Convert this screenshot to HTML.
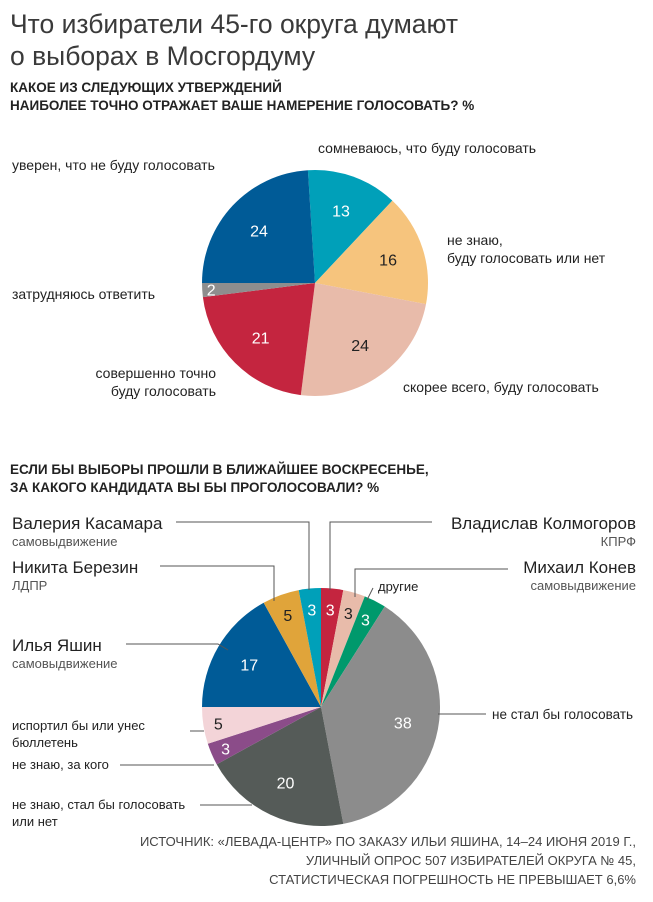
<!DOCTYPE html>
<html><head><meta charset="utf-8"><style>
body{margin:0;background:#fff;}
svg{display:block;font-family:"Liberation Sans","DejaVu Sans",sans-serif;}
</style></head><body>
<svg id="s" width="653" height="902" viewBox="0 0 653 902" xmlns="http://www.w3.org/2000/svg">
<g fill="#333">
<text x="10" y="33" font-size="26.5" fill="#3a3a3a">Что избиратели 45-го округа думают</text>
<text x="10" y="65" font-size="26.5" fill="#3a3a3a">о выборах в Мосгордуму</text>
<text x="10" y="92" font-size="13.5" font-weight="bold" fill="#222">КАКОЕ ИЗ СЛЕДУЮЩИХ УТВЕРЖДЕНИЙ</text>
<text x="10" y="110" font-size="13.5" font-weight="bold" fill="#222">НАИБОЛЕЕ ТОЧНО ОТРАЖАЕТ ВАШЕ НАМЕРЕНИЕ ГОЛОСОВАТЬ? %</text>
<text x="10" y="474" font-size="13.5" font-weight="bold" fill="#222">ЕСЛИ БЫ ВЫБОРЫ ПРОШЛИ В БЛИЖАЙШЕЕ ВОСКРЕСЕНЬЕ,</text>
<text x="10" y="492" font-size="13.5" font-weight="bold" fill="#222">ЗА КАКОГО КАНДИДАТА ВЫ БЫ ПРОГОЛОСОВАЛИ? %</text>
</g>
<g id="p1"></g><g id="p2"></g>
<g font-size="14" fill="#222">
<text x="318" y="153">сомневаюсь, что буду голосовать</text>
<text x="12" y="170">уверен, что не буду голосовать</text>
<text x="447" y="245">не знаю,</text>
<text x="447" y="263">буду голосовать или нет</text>
<text x="12" y="299">затрудняюсь ответить</text>
<text x="216" y="378" text-anchor="end">совершенно точно</text>
<text x="216" y="396" text-anchor="end">буду голосовать</text>
<text x="403" y="392">скорее всего, буду голосовать</text>
</g>
<g stroke="#555" stroke-width="1" fill="none">
<polyline points="176,522 309,522 309,590"/>
<polyline points="160,566 274,566 274,601"/>
<polyline points="126,644 218,644 228,650"/>
<polyline points="330,590 330,522 432,522"/>
<polyline points="355,597 355,569 508,569"/>
<polyline points="367,600 373,588"/>
<polyline points="438,714 486,714"/>
<polyline points="190,731 204,731"/>
<polyline points="120,765 214,765"/>
<polyline points="200,805 252,805"/>
</g>
<g fill="#222">
<text x="12" y="529" font-size="17">Валерия Касамара</text>
<text x="12" y="546" font-size="13" fill="#555">самовыдвижение</text>
<text x="12" y="573" font-size="17">Никита Березин</text>
<text x="12" y="590" font-size="13" fill="#555">ЛДПР</text>
<text x="12" y="651" font-size="17">Илья Яшин</text>
<text x="12" y="668" font-size="13" fill="#555">самовыдвижение</text>
<text x="636" y="529" font-size="17" text-anchor="end">Владислав Колмогоров</text>
<text x="636" y="546" font-size="13" fill="#555" text-anchor="end">КПРФ</text>
<text x="636" y="573" font-size="17" text-anchor="end">Михаил Конев</text>
<text x="636" y="590" font-size="13" fill="#555" text-anchor="end">самовыдвижение</text>
<text x="378" y="591" font-size="13">другие</text>
<text x="492" y="719" font-size="13.5">не стал бы голосовать</text>
<text x="12" y="730" font-size="13">испортил бы или унес</text>
<text x="12" y="747" font-size="13">бюллетень</text>
<text x="12" y="769" font-size="13">не знаю, за кого</text>
<text x="12" y="809" font-size="13">не знаю, стал бы голосовать</text>
<text x="12" y="826" font-size="13">или нет</text>
<g font-size="13" fill="#444" text-anchor="end">
<text x="636" y="846">ИСТОЧНИК: «ЛЕВАДА-ЦЕНТР» ПО ЗАКАЗУ ИЛЬИ ЯШИНА, 14–24 ИЮНЯ 2019 Г.,</text>
<text x="636" y="865">УЛИЧНЫЙ ОПРОС 507 ИЗБИРАТЕЛЕЙ ОКРУГА № 45,</text>
<text x="636" y="884">СТАТИСТИЧЕСКАЯ ПОГРЕШНОСТЬ НЕ ПРЕВЫШАЕТ 6,6%</text>
</g>
</g>
</svg>
<script>
function pie(id,cx,cy,r,start,data,lr){
 var g=document.getElementById(id),a=start,h='';
 data.forEach(function(d){
  var s=a*Math.PI/180,e=(a+d[0]*3.6)*Math.PI/180;
  var x1=cx+r*Math.sin(s),y1=cy-r*Math.cos(s),x2=cx+r*Math.sin(e),y2=cy-r*Math.cos(e);
  var lg=d[0]>50?1:0;
  h+='<path d="M'+cx+','+cy+' L'+x1+','+y1+' A'+r+','+r+' 0 '+lg+' 1 '+x2+','+y2+' Z" fill="'+d[1]+'"/>';
  var m=(s+e)/2,rr=d[3]||lr*r;
  h+='<text x="'+(cx+rr*Math.sin(m))+'" y="'+(cy-rr*Math.cos(m)+6)+'" font-size="16" text-anchor="middle" fill="'+d[2]+'">'+d[0]+'</text>';
  a+=d[0]*3.6;
 });
 g.innerHTML=h;
}
pie('p1',315,283,113,-3.6,[[13,'#00a0b9','#fff'],[16,'#f6c47d','#222'],[24,'#e8bbaa','#222'],[21,'#c4253f','#fff'],[2,'#8e8e8e','#fff',104],[24,'#005b97','#fff']],0.68);
pie('p2',321,707,119,0,[[3,'#c4253f','#fff',98],[3,'#e8bbaa','#222',98],[3,'#00996c','#fff',98],[38,'#8c8c8c','#fff'],[20,'#555b58','#fff'],[3,'#8b4c89','#fff',104],[5,'#f3d4d8','#222',104],[17,'#005b97','#fff'],[5,'#e0a43a','#222',98],[3,'#00a0b9','#fff',98]],0.7);
</script>
</body></html>
